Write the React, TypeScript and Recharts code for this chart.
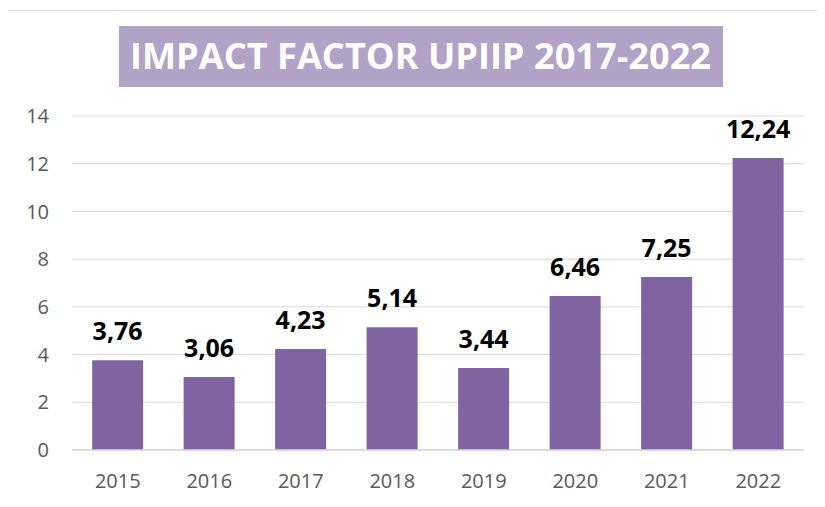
import { BarChart, Bar, XAxis, YAxis, CartesianGrid, LabelList } from 'recharts';

// values
const years = ['2015', '2016', '2017', '2018', '2019', '2020', '2021', '2022'];
const impactFactors = [3.76, 3.06, 4.23, 5.14, 3.44, 6.46, 7.25, 12.24];
const yTicks = [0, 2, 4, 6, 8, 10, 12, 14];

const chartTitle = 'IMPACT FACTOR UPIIP 2017-2022';

const data = years.map((year, i) => ({ year, value: impactFactors[i] }));

const formatValue = (v: any) => Number(v).toFixed(2).replace('.', ',');

export default function App() {
  return (
    <div
      style={{
        position: 'relative',
        top: 2,
        left: -1,
        width: 817,
        height: 496,
        borderTop: '1px solid #d9d9d9',
        borderLeft: '1px solid #d9d9d9',
        background: '#fff',
      }}
    >
      <BarChart
        width={817}
        height={496}
        data={data}
        margin={{ top: 105, right: 21, bottom: 17, left: 0 }}
        barCategoryGap="22%"
      >
        <CartesianGrid vertical={false} stroke="#d9d9d9" />
        <XAxis
          dataKey="year"
          height={40}
          stroke="#d9d9d9"
          strokeWidth={1.5}
          tickLine={false}
          tickSize={0}
          tickMargin={24}
          tick={{ fill: '#595959', fontSize: 20, fontFamily: 'Open Sans' }}
        />
        <YAxis
          width={64}
          domain={[0, 14]}
          ticks={yTicks}
          axisLine={false}
          tickLine={false}
          tickSize={0}
          tickMargin={23}
          tick={{ fill: '#595959', fontSize: 20, fontFamily: 'Open Sans' }}
        />
        <Bar dataKey="value" fill="#8064a2" isAnimationActive={false}>
          <LabelList
            dataKey="value"
            position="top"
            offset={20}
            formatter={formatValue}
            style={{ fill: '#000', fontSize: 25, fontWeight: 700, fontFamily: 'Open Sans' }}
          />
        </Bar>
      </BarChart>

      {/* title box */}
      <svg
        width={604}
        height={61}
        style={{ position: 'absolute', left: 111, top: 15 }}
      >
        <rect x={0} y={0} width={604} height={61} fill="#b3a2c7" />
        <text
          x={11}
          y={43}
          textLength={581}
          lengthAdjust="spacingAndGlyphs"
          fill="#fff"
          fontSize={35}
          fontWeight={700}
          fontFamily="Open Sans"
        >
          {chartTitle}
        </text>
      </svg>
    </div>
  );
}
